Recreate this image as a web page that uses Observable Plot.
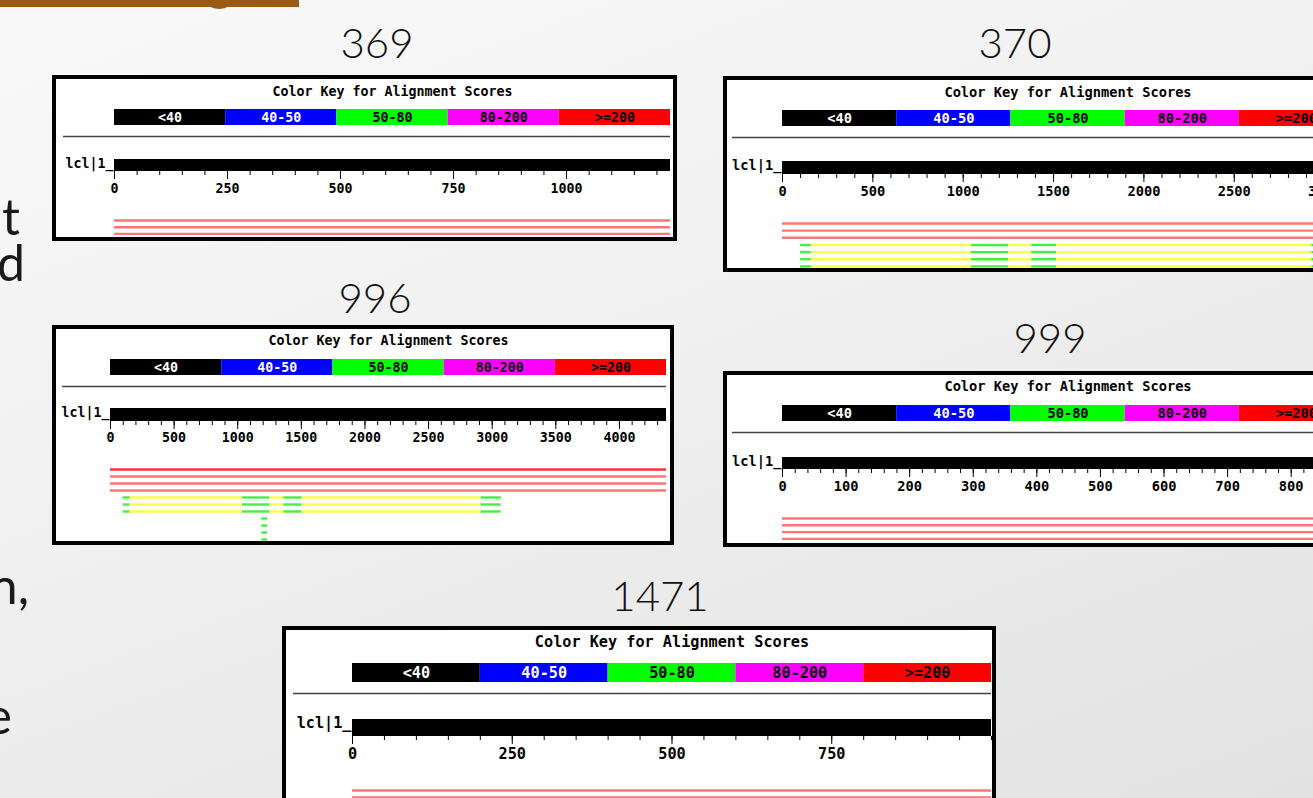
<!DOCTYPE html>
<html><head><meta charset="utf-8">
<script src="https://cdn.jsdelivr.net/npm/d3@7"></script>
<script src="https://cdn.jsdelivr.net/npm/@observablehq/plot@0.6"></script>
<style>
html,body{margin:0;padding:0;width:1313px;height:798px;overflow:hidden;}
body{position:relative;background:linear-gradient(160deg,#f9f9f9 0%,#f0f0f0 45%,#e2e2e2 100%);}
.panel{position:absolute;box-sizing:border-box;border:4px solid #000;background:#fff;overflow:hidden;}
.panel svg{display:block;max-width:none !important;background:#fff;}
.num{position:absolute;font-family:Lato,"Open Sans","DejaVu Sans",sans-serif;font-weight:300;font-size:42px;color:#111;line-height:1;transform:translate(-50%,-50%);white-space:nowrap;}
.frag{position:absolute;font-family:Lato,"Open Sans","DejaVu Sans",sans-serif;font-weight:400;font-size:50px;color:#1a1a1a;line-height:0.88;transform:translateX(-100%);white-space:nowrap;}
.bar{position:absolute;left:0;top:0;width:299px;height:7px;background:#9b5b12;}
.bump{position:absolute;left:205px;top:0;width:28px;height:9px;background:#9b5b12;border-radius:0 0 14px 14px / 0 0 9px 9px;}
</style>
</head><body>
<div class="bar"></div><div class="bump"></div>
<script>
// ---------- data ----------
const slideNumbers = ["369", "370", "996", "999", "1471"];
const keyTitle = "Color Key for Alignment Scores";
const keyLabels = ["<40", "40-50", "50-80", "80-200", ">=200"];
const keyFills = ["#000000", "#0000ff", "#00ff00", "#ff00ff", "#ff0000"];
const keyTextFills = ["#ffffff", "#ffffff", "#000000", "#000000", "#000000"];
const queryLabel = "lcl|1_";
const queryLengths = [1230, 3160, 4370, 898, 1000];
const majorTicks369 = [0, 250, 500, 750, 1000];
const majorTicks370 = [0, 500, 1000, 1500, 2000, 2500, 3000];
const majorTicks996 = [0, 500, 1000, 1500, 2000, 2500, 3000, 3500, 4000];
const majorTicks999 = [0, 100, 200, 300, 400, 500, 600, 700, 800];
const majorTicks1471 = [0, 250, 500, 750];
const minorSteps = [50, 100, 100, 20, 50];
// hits: [row, start, end, class]
const hits369 = [
  [0, 0, 1230, "red"], [1, 0, 1230, "red"], [2, 0, 1230, "red"]
];
const hits370 = [
  [0, 0, 3160, "red"], [1, 0, 3160, "red"], [2, 0, 3160, "red"],
  [3, 100, 160, "green"], [3, 160, 1046, "yellow"], [3, 1046, 1251, "green"], [3, 1251, 1379, "yellow"], [3, 1379, 1517, "green"], [3, 1517, 2929, "yellow"], [3, 2929, 3070, "green"],
  [4, 100, 160, "green"], [4, 160, 1046, "yellow"], [4, 1046, 1251, "green"], [4, 1251, 1379, "yellow"], [4, 1379, 1517, "green"], [4, 1517, 2929, "yellow"], [4, 2929, 3070, "green"],
  [5, 100, 160, "green"], [5, 160, 1046, "yellow"], [5, 1046, 1251, "green"], [5, 1251, 1379, "yellow"], [5, 1379, 1517, "green"], [5, 1517, 2929, "yellow"], [5, 2929, 3070, "green"],
  [6, 100, 160, "green"], [6, 160, 1046, "yellow"], [6, 1046, 1251, "green"], [6, 1251, 1379, "yellow"], [6, 1379, 1517, "green"], [6, 1517, 2929, "yellow"], [6, 2929, 3070, "green"]
];
const hits996 = [
  [0, 0, 4370, "redStrong"], [1, 0, 4370, "red"], [2, 0, 4370, "red"], [3, 0, 4370, "red"],
  [4, 100, 155, "green"], [4, 155, 1037, "yellow"], [4, 1037, 1254, "green"], [4, 1254, 1362, "yellow"], [4, 1362, 1506, "green"], [4, 1506, 2913, "yellow"], [4, 2913, 3071, "green"],
  [5, 100, 155, "green"], [5, 155, 1037, "yellow"], [5, 1037, 1254, "green"], [5, 1254, 1362, "yellow"], [5, 1362, 1506, "green"], [5, 1506, 2913, "yellow"], [5, 2913, 3071, "green"],
  [6, 100, 155, "green"], [6, 155, 1037, "yellow"], [6, 1037, 1254, "green"], [6, 1254, 1362, "yellow"], [6, 1362, 1506, "green"], [6, 1506, 2913, "yellow"], [6, 2913, 3071, "green"],
  [7, 1189, 1234, "green"], [8, 1189, 1234, "green"], [9, 1189, 1234, "green"], [10, 1189, 1234, "green"]
];
const hits999 = [
  [0, 0, 898, "red"], [1, 0, 898, "red"], [2, 0, 898, "red"], [3, 0, 898, "red"]
];
const hits1471 = [
  [0, 0, 1000, "red"], [1, 0, 1000, "red"]
];
const sideFragments = ["t", "d", "n,", "e"];

// ---------- styles / layout ----------
const hitColor = {red: "#ff7474", redStrong: "#ff3434", green: "#44f044", yellow: "#ffff44"};
const mono = "'DejaVu Sans Mono', 'Liberation Mono', monospace";
const panels = [
  {num: [377, 42], box: [52, 75, 625, 166], key: [114, 670, 109, 125], title: 91, sep: [63, 136], bar: [159, 171], lab: 188, hit: [220, 6.7], fs: 13.3, majors: majorTicks369, hits: hits369},
  {num: [1015, 42], box: [723, 76, 650, 196], key: [782, 1353, 110, 126], title: 92, sep: [732, 137], bar: [161, 174], lab: 191, hit: [223, 7.15], fs: 13.7, majors: majorTicks370, hits: hits370},
  {num: [375, 297], box: [52, 325, 622, 220], key: [110, 666, 359, 375], title: 340, sep: [62, 386], bar: [408, 421], lab: 437, hit: [469, 7], fs: 13.3, majors: majorTicks996, hits: hits996},
  {num: [1050, 337], box: [723, 371, 650, 176], key: [782, 1353, 405, 421], title: 386, sep: [732, 432], bar: [457, 469], lab: 486, hit: [518, 6.8], fs: 13.7, majors: majorTicks999, hits: hits999},
  {num: [660, 595], box: [282, 626, 714, 200], key: [352, 991, 663, 682], title: 642, sep: [293, 693], bar: [719, 736], lab: 754, hit: [790, 7], fs: 15.2, majors: majorTicks1471, hits: hits1471}
];
const fragPos = [[20, 194], [25, 240], [29, 563], [12, 693]];

sideFragments.forEach((t, i) => {
  const d = document.createElement("div");
  d.className = "frag";
  d.textContent = t;
  d.style.left = fragPos[i][0] + "px";
  d.style.top = fragPos[i][1] + "px";
  document.body.appendChild(d);
});

panels.forEach((p, i) => {
  const L = queryLengths[i];
  const [bx, by, bw, bh] = p.box;
  const ox = bx + 4, oy = by + 4;
  const W = bw - 8, H = bh - 8;
  const X = v => v - ox, Y = v => v - oy;

  const num = document.createElement("div");
  num.className = "num";
  num.textContent = slideNumbers[i];
  num.style.left = p.num[0] + "px";
  num.style.top = p.num[1] + "px";
  document.body.appendChild(num);

  const hits = p.hits.map(([row, start, end, cls]) => ({row, start, end, cls}));
  const minors = d3.range(0, L + 1e-9, minorSteps[i]);
  const k0 = Y(p.key[2]), k1 = Y(p.key[3]);
  const b0 = Y(p.bar[0]), b1 = Y(p.bar[1]);
  const txt = {fontFamily: mono, fontWeight: "bold", fontSize: p.fs};

  const chart = Plot.plot({
    width: W, height: H,
    marginTop: 0, marginBottom: 0,
    marginLeft: X(p.sep[0]), marginRight: W - X(p.key[1]),
    x: {domain: [0, L], range: [X(p.key[0]), X(p.key[1])], axis: null},
    y: {type: "identity", axis: null},
    color: {type: "identity"},
    style: {background: "#fff", overflow: "visible"},
    marks: [
      Plot.text([keyTitle], {x: L / 2, y: Y(p.title), text: d => d, fill: "#000", ...txt}),
      Plot.rect(keyLabels, {x1: (d, j) => j * L / 5, x2: (d, j) => (j + 1) * L / 5, y1: k0, y2: k1, fill: (d, j) => keyFills[j], inset: 0}),
      Plot.text(keyLabels, {x: (d, j) => (j + 0.5) * L / 5, y: (k0 + k1) / 2, text: d => d, fill: (d, j) => keyTextFills[j], ...txt}),
      Plot.ruleY([Y(p.sep[1])], {stroke: "#444", strokeWidth: 1.5}),
      Plot.text([queryLabel], {x: 0, y: b0 + 4, text: d => d, textAnchor: "end", dx: -1, fill: "#000", ...txt}),
      Plot.rect([L], {x1: 0, x2: d => d, y1: b0, y2: b1, fill: "#000", inset: 0}),
      Plot.ruleX(minors, {x: d => d, y1: b1, y2: b1 + 4, stroke: "#000", strokeWidth: 1}),
      Plot.ruleX(p.majors, {x: d => d, y1: b1, y2: b1 + 8, stroke: "#000", strokeWidth: 1}),
      Plot.text(p.majors, {x: d => d, y: Y(p.lab), text: d => String(d), fill: "#000", ...txt}),
      Plot.ruleY(hits, {x1: "start", x2: "end", y: d => Y(p.hit[0]) + d.row * p.hit[1], stroke: d => hitColor[d.cls], strokeWidth: 2.4})
    ]
  });

  const div = document.createElement("div");
  div.className = "panel";
  div.style.left = bx + "px";
  div.style.top = by + "px";
  div.style.width = bw + "px";
  div.style.height = bh + "px";
  div.appendChild(chart);
  document.body.appendChild(div);
});
</script>
</body></html>
